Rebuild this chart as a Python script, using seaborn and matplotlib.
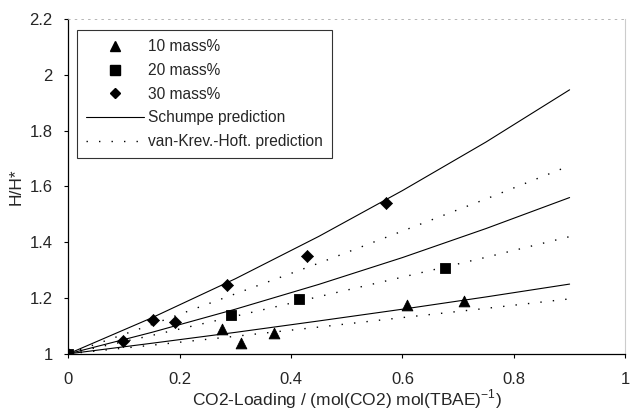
import numpy as np
import pandas as pd
import matplotlib
matplotlib.use("Agg")
import matplotlib.pyplot as plt
import seaborn as sns
from matplotlib.lines import Line2D

# Measured data
x10 = [0.0, 0.277, 0.31, 0.37, 0.608, 0.71]
y10 = [1.0, 1.09, 1.04, 1.075, 1.176, 1.19]
x20 = [0.0, 0.293, 0.415, 0.676]
y20 = [1.0, 1.14, 1.197, 1.307]
x30 = [0.0, 0.099, 0.152, 0.191, 0.286, 0.428, 0.571]
y30 = [1.0, 1.045, 1.12, 1.115, 1.248, 1.349, 1.54]

# Prediction curves
xp = [0.0, 0.15, 0.3, 0.45, 0.6, 0.75, 0.9]
schumpe10 = [1.0, 1.038, 1.077, 1.118, 1.16, 1.204, 1.25]
schumpe20 = [1.0, 1.077, 1.16, 1.249, 1.345, 1.449, 1.56]
schumpe30 = [1.0, 1.129, 1.269, 1.421, 1.585, 1.759, 1.946]
vkh10 = [1.0, 1.031, 1.063, 1.096, 1.13, 1.163, 1.197]
vkh20 = [1.0, 1.066, 1.135, 1.205, 1.275, 1.346, 1.42]
vkh30 = [1.0, 1.105, 1.215, 1.325, 1.44, 1.555, 1.674]

xticks = [0, 0.2, 0.4, 0.6, 0.8, 1]
xticklabels = ["0", "0.2", "0.4", "0.6", "0.8", "1"]
yticks = [1, 1.2, 1.4, 1.6, 1.8, 2, 2.2]
yticklabels = ["1", "1.2", "1.4", "1.6", "1.8", "2", "2.2"]

sns.set_style("white")
plt.rcParams["font.family"] = ["Liberation Sans", "DejaVu Sans"]
plt.rcParams["mathtext.fontset"] = "custom"
plt.rcParams["mathtext.rm"] = "Liberation Sans"

fig = plt.figure(figsize=(6.31, 4.11), dpi=100)
ax = fig.add_axes([0.108, 0.139, 0.883, 0.815])

dot = (0, (1, 8))
for ys in (schumpe10, schumpe20, schumpe30):
    sns.lineplot(x=xp, y=ys, ax=ax, color="black", lw=0.8, legend=False)
for ys in (vkh10, vkh20, vkh30):
    sns.lineplot(x=xp, y=ys, ax=ax, color="black", lw=1.0, linestyle=dot, legend=False)

sns.scatterplot(x=x10, y=y10, ax=ax, marker="^", s=60, color="black", edgecolor="black", zorder=5)
sns.scatterplot(x=x20, y=y20, ax=ax, marker="s", s=55, color="black", edgecolor="black", zorder=5)
sns.scatterplot(x=x30, y=y30, ax=ax, marker="D", s=38, color="black", edgecolor="black", zorder=5)

ax.set_xlim(0, 1)
ax.set_ylim(1, 2.2)
ax.set_xticks(xticks)
ax.set_xticklabels(xticklabels)
ax.set_yticks(yticks)
ax.set_yticklabels(yticklabels)
ax.tick_params(axis="x", direction="out", length=3, width=0.8, color="black",
               labelsize=12, pad=10, bottom=True)
ax.tick_params(axis="y", direction="out", length=3, width=0.8, color="black",
               labelsize=12, pad=8, left=True)

for s in ("left", "bottom"):
    ax.spines[s].set_color("black")
    ax.spines[s].set_linewidth(0.9)
ax.spines["top"].set_color("#aaaaaa")
ax.spines["top"].set_linestyle((0, (2, 6)))
ax.spines["top"].set_linewidth(0.6)
ax.spines["right"].set_color("#cccccc")
ax.spines["right"].set_linewidth(0.8)

ax.set_xlabel("CO2-Loading / (mol(CO2) mol(TBAE)$^{\\mathrm{-1}}$)", fontsize=12.5, labelpad=1)
ax.xaxis.set_label_coords(0.5, -0.1, transform=ax.transAxes)
ax.set_ylabel("H/H*", fontsize=12.5, labelpad=4)

handles = [
    Line2D([], [], marker="^", color="black", linestyle="none", markersize=7),
    Line2D([], [], marker="s", color="black", linestyle="none", markersize=6.5),
    Line2D([], [], marker="D", color="black", linestyle="none", markersize=5.5),
    Line2D([], [], color="black", lw=0.8),
    Line2D([], [], color="black", lw=1.0, linestyle=dot),
]
labels = ["10 mass%", "20 mass%", "30 mass%", "Schumpe prediction", "van-Krev.-Hoft. prediction"]
leg = ax.legend(handles, labels, loc="upper left", bbox_to_anchor=(0.016, 0.967),
                frameon=True, fancybox=False, fontsize=11.2, handlelength=3.7,
                labelspacing=0.56, borderpad=0.6, handletextpad=0.25, borderaxespad=0)
leg.get_frame().set_edgecolor("black")
leg.get_frame().set_linewidth(0.8)

fig.savefig("out.png", dpi=100)
